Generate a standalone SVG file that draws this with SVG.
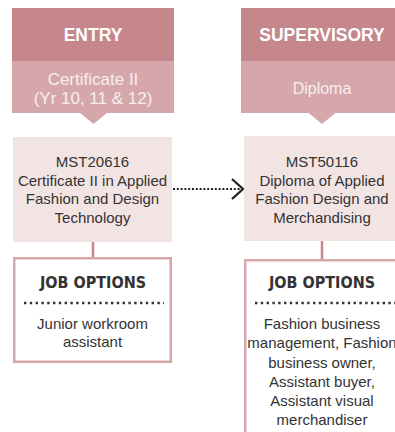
<svg xmlns="http://www.w3.org/2000/svg" width="395" height="432" viewBox="0 0 395 432">
<defs>
<style>
.hd{fill:#c5868c}
.sub{fill:#d5a7ab}
.ht{font-family:"Liberation Sans",Arial,sans-serif;font-weight:bold;font-size:17.5px;fill:#ffffff;text-anchor:middle}
.st{font-family:"Liberation Sans",Arial,sans-serif;font-size:17px;fill:#f8eeee;text-anchor:middle}
.nb{fill:#f3e4e4}
.nt{font-family:"Liberation Sans",Arial,sans-serif;font-size:15px;fill:#333333;text-anchor:middle}
.jb{fill:#ffffff;stroke:#d6a8ac;stroke-width:2.5}
.jt{font-family:"DejaVu Sans Condensed","DejaVu Sans",sans-serif;font-stretch:condensed;font-weight:bold;font-size:16px;fill:#333333;text-anchor:middle}
.dl{stroke:#333333;stroke-width:2.4;stroke-dasharray:2.4 3.4}
.cn{stroke:#c9868c;stroke-width:2.5;fill:none}
</style>
<marker id="chev" viewBox="0 0 14 22" refX="12.5" refY="11" markerWidth="14" markerHeight="22" markerUnits="userSpaceOnUse" orient="auto">
<path d="M1.5,1 L12.5,11 L1.5,21" fill="none" stroke="#222222" stroke-width="2.3"/>
</marker>
</defs>

<g id="entry-header">
<rect class="hd" x="12" y="8" width="162" height="53"/>
<rect class="sub" x="12" y="61" width="162" height="52"/>
<polygon class="sub" points="80,113 107,113 93.5,124"/>
<text class="ht" x="93" y="41">ENTRY</text>
<text class="st" x="93" y="85">Certificate II</text>
<text class="st" x="93" y="104">(Yr 10, 11 &amp; 12)</text>
</g>

<g id="supervisory-header">
<rect class="hd" x="241" y="8" width="162" height="53"/>
<rect class="sub" x="241" y="61" width="162" height="52"/>
<polygon class="sub" points="308.5,113 335.5,113 322,124"/>
<text class="ht" x="322" y="41">SUPERVISORY</text>
<text class="st" x="322" y="94" style="font-size:16px">Diploma</text>
</g>

<g id="connectors">
<line class="cn" x1="93" y1="242" x2="93" y2="258"/>
<line class="cn" x1="322" y1="241" x2="322" y2="259"/>
<line x1="173" y1="189" x2="243" y2="189" stroke="#222222" stroke-width="2" stroke-dasharray="2 1.8" marker-end="url(#chev)"/>
</g>

<g id="cert2-node">
<rect class="nb" x="13" y="137" width="159" height="105"/>
<text class="nt" x="92.5" y="167">MST20616</text>
<text class="nt" x="92.5" y="185.5">Certificate II in Applied</text>
<text class="nt" x="92.5" y="204">Fashion and Design</text>
<text class="nt" x="92.5" y="222.5">Technology</text>
</g>

<g id="diploma-node">
<rect class="nb" x="244" y="136" width="157" height="105"/>
<text class="nt" x="322" y="167">MST50116</text>
<text class="nt" x="322" y="185.5">Diploma of Applied</text>
<text class="nt" x="322" y="204">Fashion Design and</text>
<text class="nt" x="322" y="222.5">Merchandising</text>
</g>

<g id="entry-jobs">
<rect class="jb" x="14.25" y="258.25" width="156.5" height="103.5"/>
<text class="jt" x="93" y="288">JOB OPTIONS</text>
<line class="dl" x1="24" y1="303" x2="164" y2="303"/>
<text class="nt" x="92.5" y="329">Junior workroom</text>
<text class="nt" x="92.5" y="347">assistant</text>
</g>

<g id="supervisory-jobs">
<rect class="jb" x="245.25" y="260.25" width="156" height="180"/>
<text class="jt" x="322" y="288">JOB OPTIONS</text>
<line class="dl" x1="255" y1="303" x2="398" y2="303"/>
<text class="nt" x="322" y="329">Fashion business</text>
<text class="nt" x="322" y="348">management, Fashion</text>
<text class="nt" x="322" y="367.5">business owner,</text>
<text class="nt" x="322" y="387">Assistant buyer,</text>
<text class="nt" x="322" y="406">Assistant visual</text>
<text class="nt" x="322" y="425">merchandiser</text>
</g>
</svg>
